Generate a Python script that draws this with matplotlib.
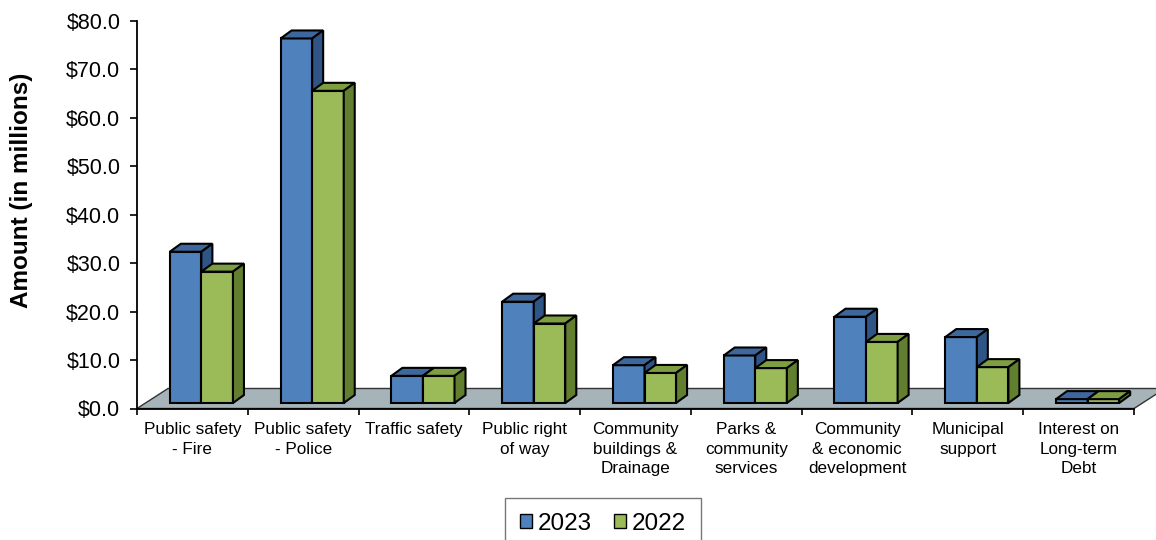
import matplotlib.pyplot as plt
from matplotlib.patches import Polygon, Patch

plt.rcParams['font.family'] = ['Liberation Sans', 'DejaVu Sans']

# ---------------------------------
# Data (amounts in millions)
# ---------------------------------
categories = [
    "Public safety\n- Fire",
    "Public safety\n- Police",
    "Traffic safety",
    "Public right\nof way",
    "Community\nbuildings &\nDrainage",
    "Parks &\ncommunity\nservices",
    "Community\n& economic\ndevelopment",
    "Municipal\nsupport",
    "Interest on\nLong-term\nDebt",
]
values_2023 = [31.2, 75.2, 5.6, 20.9, 7.8, 9.8, 17.8, 13.6, 0.8]
values_2022 = [27.1, 64.4, 5.6, 16.4, 6.2, 7.2, 12.6, 7.4, 0.8]
years = ["2023", "2022"]

# colours: front, top, side
blue = ("#4F81BD", "#3E679C", "#2F5586")
green = ("#9BBB59", "#7E9E42", "#617F2E")

# ---------------------------------
# Figure and axes
# ---------------------------------
W_PX, H_PX = 1156, 540
fig = plt.figure(figsize=(W_PX / 100, H_PX / 100), dpi=100)
left, right = 137 / W_PX, 1134 / W_PX
bottom, top = 1 - 408.5 / H_PX, 1 - 20.7 / H_PX
ax = fig.add_axes([left, bottom, right - left, top - bottom])

n = len(categories)
ax.set_xlim(0, n)
ax.set_ylim(0, 80)

# pixel -> data conversion for the fake 3D depth
ax_w = (right - left) * W_PX
ax_h = (top - bottom) * H_PX
px_x = n / ax_w
px_y = 80 / ax_h

# floor
fx, fy = 31 * px_x, 20 * px_y
floor = Polygon([(0, 0), (n, 0), (n + fx, fy), (fx, fy)], closed=True,
                facecolor="#A6B4B9", edgecolor="#333333", lw=1.0,
                clip_on=False, zorder=1)
ax.add_patch(floor)

# ---------------------------------
# 3D-looking bars
# ---------------------------------
w = 0.285
offx, offy = 9 * px_x, 5.5 * px_y
ddx, ddy = 11 * px_x, 8 * px_y
elw = 1.5

for j, (vals, cols) in enumerate([(values_2023, blue), (values_2022, green)]):
    z = 3 + j
    xs = [i + 0.5 - w + j * w + offx for i in range(n)]
    ax.bar(xs, vals, width=w, bottom=offy, align="edge", color=cols[0],
           edgecolor="black", lw=elw, zorder=z, clip_on=False)
    for x0, v in zip(xs, vals):
        x1 = x0 + w
        y0, y1 = offy, offy + v
        top_face = Polygon([(x0, y1), (x1, y1), (x1 + ddx, y1 + ddy),
                            (x0 + ddx, y1 + ddy)], closed=True,
                           facecolor=cols[1], edgecolor="black", lw=elw,
                           zorder=z, clip_on=False)
        side_face = Polygon([(x1, y0), (x1 + ddx, y0 + ddy),
                             (x1 + ddx, y1 + ddy), (x1, y1)], closed=True,
                            facecolor=cols[2], edgecolor="black", lw=elw,
                            zorder=z, clip_on=False)
        ax.add_patch(top_face)
        ax.add_patch(side_face)

# ---------------------------------
# Axes styling
# ---------------------------------
for s in ["top", "right"]:
    ax.spines[s].set_visible(False)
for s in ["left", "bottom"]:
    ax.spines[s].set_linewidth(1.3)
    ax.spines[s].set_zorder(6)

ax.set_yticks(range(0, 81, 10))
ax.set_yticklabels([f"${v:.1f}" for v in range(0, 81, 10)], fontsize=15.5)
ax.tick_params(axis="y", length=5, width=1.2, pad=7)

ax.set_xticks(range(n + 1))
ax.set_xticklabels([])
ax.tick_params(axis="x", which="major", length=4, width=1.2)
ax.set_xticks([i + 0.5 for i in range(n)], minor=True)
ax.set_xticklabels(categories, minor=True, fontsize=12.3, linespacing=1.35)
ax.tick_params(axis="x", which="minor", length=0, pad=10)

fig.text(22 / W_PX, 1 - 190 / H_PX, "Amount (in millions)", rotation=90,
         fontsize=17.5, fontweight="bold", ha="center", va="center")

# ---------------------------------
# Legend
# ---------------------------------
handles = [Patch(facecolor=blue[0], edgecolor="black"),
           Patch(facecolor=green[0], edgecolor="black")]
leg = fig.legend(handles, years, loc="upper center",
                 bbox_to_anchor=(603 / W_PX, 1 - 498 / H_PX), ncol=2,
                 fontsize=17.5, frameon=True, fancybox=False,
                 edgecolor="#555555", handlelength=0.5, handleheight=0.5,
                 handletextpad=0.25, columnspacing=0.9, borderpad=0.6,
                 borderaxespad=0)
leg.get_frame().set_linewidth(1.0)

fig.savefig("out.png", dpi=100)
